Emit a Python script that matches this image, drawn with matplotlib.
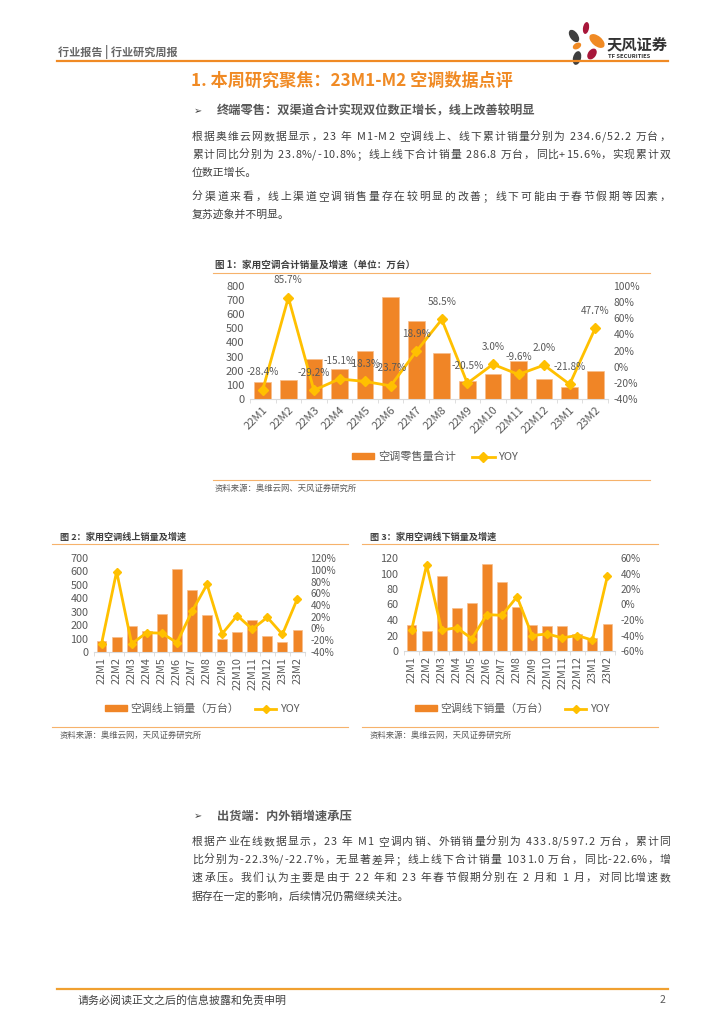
import numpy as np
import matplotlib.pyplot as plt
from matplotlib.patches import Ellipse, Patch
from matplotlib.lines import Line2D

plt.rcParams['font.family'] = ['Noto Sans CJK SC', 'DejaVu Sans']

# data
months = ['22M1', '22M2', '22M3', '22M4', '22M5', '22M6', '22M7',
          '22M8', '22M9', '22M10', '22M11', '22M12', '23M1', '23M2']
total_sales = [117, 134, 285, 212, 343, 725, 550, 329, 127, 179, 270, 139, 88, 199]
total_yoy = [-28.4, 85.7, -29.2, -15.1, -18.3, -23.7, 18.9, 58.5, -20.5, 3.0, -9.6, 2.0, -21.8, 47.7]
online_sales = [80, 110, 190, 155, 285, 615, 460, 275, 95, 148, 240, 118, 71, 164]
online_yoy = [-26, 97, -26, -7, -8, -24, 29, 75, -9, 22, -1, 19, -10, 51]
offline_sales = [34, 26, 97, 56, 62, 112, 89, 57, 33, 32, 32, 22, 17, 35]
offline_yoy = [-33, 51, -33, -30, -44, -13, -14, 10, -40, -38, -43, -40, -46, 37]

BAR = '#F08526'
LINE = '#FFC000'
GRAY = '#595959'
TXT = '#404040'
ORANGE = '#F08A24'
LIGHT = '#F6B26B'

W, H = 724, 1024
fig = plt.figure(figsize=(W / 100, H / 100), dpi=100)
page = fig.add_axes([0, 0, 1, 1])
page.set_xlim(0, W)
page.set_ylim(H, 0)
page.axis('off')


def box(l, t, r, b):
    return [l / W, 1 - b / H, (r - l) / W, (b - t) / H]


# rough advance widths (in em) for the latin part of the body font
latin_w = {' ': 0.25, '.': 0.27, '/': 0.36, '-': 0.34, '%': 0.86, '+': 0.55, 'M': 0.82}


def char_em(c):
    if ord(c) > 0x2000:
        return 1.0
    return latin_w.get(c, 0.55)


def line_text(y, s, size=7.8, x0=192, x1=670, full=True, color=TXT):
    if not full:
        page.text(x0, y, s, fontsize=size, color=color, va='center')
        return
    em = size * 100 / 72
    widths = [char_em(c) * em for c in s]
    extra = (x1 - x0 - sum(widths)) / (len(s) - 1)
    x = x0
    for c, w in zip(s, widths):
        if c != ' ':
            page.text(x, y, c, fontsize=size, color=color, va='center')
        x += w + extra


# header
page.text(58, 52, '行业报告 | 行业研究周报', fontsize=8, color='#666666', weight='bold', va='center')
page.plot([57, 668], [61, 61], color=ORANGE, lw=1.6)

# logo
petals = [((574, 36), 8, 14, -35, '#3F3F3F'),
          ((586, 28), 6, 12, 10, '#A8173A'),
          ((597, 41), 10, 18, -50, '#F08A24'),
          ((577, 46), 6, 9, 60, '#F08A24'),
          ((592, 54), 8, 12, 35, '#A8173A'),
          ((577, 58), 8, 14, 15, '#3F3F3F')]
for c, w, h, a, col in petals:
    page.add_patch(Ellipse(c, w, h, angle=a, color=col, lw=0))
page.text(607, 44, '天风证券', fontsize=11, weight='bold', color='#333333', va='center')
page.text(608, 56, 'TF SECURITIES', fontsize=4.2, weight='bold', color='#333333', va='center')

# section title
page.text(191, 81, '1. 本周研究聚焦：23M1-M2 空调数据点评', fontsize=12.3, color=ORANGE,
          weight='bold', va='center')

page.text(194, 111, '➢', fontsize=7, color=TXT, va='center', family=['DejaVu Sans'])
page.text(217, 111, '终端零售：双渠道合计实现双位数正增长，线上改善较明显', fontsize=8.8,
          weight='bold', color=GRAY, va='center')

line_text(137, '根据奥维云网数据显示，23 年 M1-M2 空调线上、线下累计销量分别为 234.6/52.2 万台，')
line_text(155, '累计同比分别为 23.8%/-10.8%；线上线下合计销量 286.8 万台，同比+15.6%，实现累计双')
line_text(173, '位数正增长。', full=False)
line_text(197, '分渠道来看，线上渠道空调销售量存在较明显的改善；线下可能由于春节假期等因素，')
line_text(215, '复苏迹象并不明显。', full=False)

page.text(194, 816, '➢', fontsize=7, color=TXT, va='center', family=['DejaVu Sans'])
page.text(217, 816, '出货端：内外销增速承压', fontsize=8.8, weight='bold', color=GRAY, va='center')
line_text(842, '根据产业在线数据显示，23 年 M1 空调内销、外销销量分别为 433.8/597.2 万台，累计同')
line_text(860, '比分别为-22.3%/-22.7%，无显著差异；线上线下合计销量 1031.0 万台，同比-22.6%，增')
line_text(878, '速承压。我们认为主要是由于 22 年和 23 年春节假期分别在 2 月和 1 月，对同比增速数')
line_text(896, '据存在一定的影响，后续情况仍需继续关注。', full=False)

# footer
page.plot([57, 668], [989, 989], color='#F0A030', lw=1.6)
page.text(78, 1000, '请务必阅读正文之后的信息披露和免责申明', fontsize=7.9, color=TXT, va='center')
page.text(660, 1000, '2', fontsize=7.5, color=GRAY, va='center')


def chart(rect, sales, yoy, ymax, ystep, rmin, rmax, rot, name, leg_xy, tick_size,
          labels=False, ms=5):
    ax = fig.add_axes(box(*rect))
    ax.set_facecolor('none')
    x = np.arange(len(months))
    ax.bar(x, sales, width=0.65, color=BAR, edgecolor='#F7BE8C', linewidth=0.5)
    ax.set_xlim(-0.5, len(months) - 0.5)
    ax.set_ylim(0, ymax)
    ax.set_yticks(np.arange(0, ymax + 1, ystep))
    ax.set_xticks(x)
    if rot == 45:
        ax.set_xticklabels(months, rotation=45, ha='right', rotation_mode='anchor')
    else:
        ax.set_xticklabels(months, rotation=90, ha='center', va='top')
    ax.set_xticks(np.arange(-0.5, len(months)), minor=True)
    ax.tick_params(axis='x', which='major', length=0, pad=4, labelsize=tick_size, labelcolor=GRAY)
    ax.tick_params(axis='x', which='minor', length=3, color='#D9D9D9')
    ax.tick_params(axis='y', length=0, labelsize=tick_size, labelcolor=GRAY, pad=4)
    for s in ['top', 'left', 'right']:
        ax.spines[s].set_visible(False)
    ax.spines['bottom'].set_color('#D9D9D9')

    ax2 = ax.twinx()
    ax2.plot(x, yoy, color=LINE, lw=2, marker='D', ms=ms, zorder=3)
    ax2.set_ylim(rmin, rmax)
    ticks = np.arange(rmin, rmax + 1, 20)
    ax2.set_yticks(ticks)
    ax2.set_yticklabels([f'{t}%' for t in ticks])
    ax2.tick_params(axis='y', length=0, labelsize=tick_size - 0.6, labelcolor=GRAY, pad=4)
    for s in ['top', 'left', 'right', 'bottom']:
        ax2.spines[s].set_visible(False)
    if labels:
        for i, v in enumerate(yoy):
            ax2.annotate(f'{v:.1f}%', (i, v), xytext=(0, 9), textcoords='offset points',
                         ha='center', va='bottom', fontsize=7.2, color=GRAY)
    handles = [Patch(color=BAR), Line2D([], [], color=LINE, lw=2, marker='D', ms=ms)]
    fig.legend(handles, [name, 'YOY'], loc='center', ncol=2, frameon=False,
               bbox_to_anchor=(leg_xy[0] / W, 1 - leg_xy[1] / H), fontsize=tick_size,
               handlelength=2.0, handleheight=0.5, columnspacing=1.5, handletextpad=0.3,
               labelcolor=GRAY)


# chart 1
page.text(215, 265, '图 1：家用空调合计销量及增速（单位：万台）', fontsize=6.9, weight='bold',
          color=TXT, va='center')
page.plot([213, 650], [273, 273], color=LIGHT, lw=0.8)
chart((250, 286, 608, 399), total_sales, total_yoy, 800, 100, -40, 100, 45,
      '空调零售量合计', (435, 457), 8, labels=True)
page.plot([213, 650], [480, 480], color=LIGHT, lw=0.8)
page.text(215, 488, '资料来源：奥维云网、天风证券研究所', fontsize=6, color=GRAY, va='center')

# chart 2
page.text(60, 537, '图 2：家用空调线上销量及增速', fontsize=6.6, weight='bold', color=TXT, va='center')
page.plot([52, 348], [544, 544], color=LIGHT, lw=0.8)
chart((94, 558, 305, 652), online_sales, online_yoy, 700, 100, -40, 120, 90,
      '空调线上销量（万台）', (202, 709), 7.8, ms=4.5)
page.plot([52, 348], [727, 727], color=LIGHT, lw=0.8)
page.text(60, 735, '资料来源：奥维云网，天风证券研究所', fontsize=6, color=GRAY, va='center')

# chart 3
page.text(370, 537, '图 3：家用空调线下销量及增速', fontsize=6.6, weight='bold', color=TXT, va='center')
page.plot([362, 658], [544, 544], color=LIGHT, lw=0.8)
chart((404, 558, 615, 651), offline_sales, offline_yoy, 120, 20, -60, 60, 90,
      '空调线下销量（万台）', (512, 709), 7.8, ms=4.5)
page.plot([362, 658], [727, 727], color=LIGHT, lw=0.8)
page.text(370, 735, '资料来源：奥维云网，天风证券研究所', fontsize=6, color=GRAY, va='center')

fig.savefig('out.png', dpi=100)
